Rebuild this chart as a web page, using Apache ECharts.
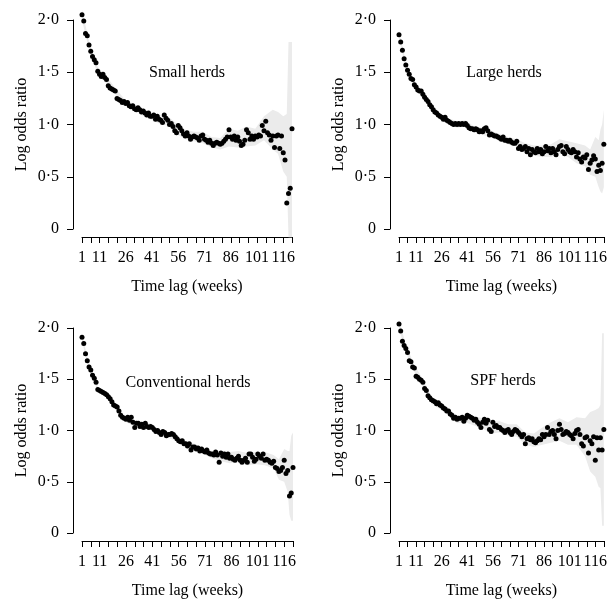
<!DOCTYPE html>
<html>
<head>
<meta charset="utf-8">
<script src="https://cdn.jsdelivr.net/npm/echarts@6/dist/echarts.min.js"></script>
<style>
html,body{margin:0;padding:0;background:#fff;}
#chart{width:610px;height:600px;}
</style>
</head>
<body>
<div id="chart"></div>
<script>
// ---- data ----
const panelTitles = ['Small herds', 'Large herds', 'Conventional herds', 'SPF herds'];
const xTickLabels = [1, 11, 26, 41, 56, 71, 86, 101, 116];
const yTickValues = [0, 0.5, 1.0, 1.5, 2.0];
const yTickLabels = ['0', '0·5', '1·0', '1·5', '2·0'];

const smallHerds = [2.05,1.99,1.87,1.85,1.76,1.70,1.65,1.62,1.59,1.51,
1.48,1.46,1.48,1.45,1.43,1.37,1.35,1.34,1.33,1.32,
1.25,1.24,1.23,1.21,1.22,1.20,1.21,1.18,1.17,1.18,
1.15,1.14,1.16,1.14,1.12,1.13,1.11,1.09,1.11,1.08,
1.08,1.09,1.05,1.08,1.05,1.04,1.02,1.09,1.06,1.04,
1.00,1.01,0.98,0.94,0.92,0.99,0.97,0.94,0.91,0.89,
0.92,0.89,0.86,0.88,0.89,0.88,0.87,0.85,0.89,0.90,
0.86,0.85,0.83,0.85,0.82,0.80,0.82,0.83,0.82,0.81,
0.82,0.84,0.86,0.88,0.95,0.88,0.86,0.89,0.85,0.88,
0.84,0.80,0.81,0.85,0.95,0.92,0.86,0.89,0.86,0.89,
0.88,0.90,0.89,0.99,0.94,1.03,0.92,0.90,0.85,0.89,
0.78,0.89,0.90,0.77,0.89,0.73,0.66,0.25,0.34,0.39,
0.96];
const largeHerds = [1.86,1.79,1.71,1.63,1.57,1.52,1.48,1.44,1.43,1.38,
1.36,1.33,1.32,1.32,1.29,1.26,1.24,1.22,1.19,1.17,
1.14,1.12,1.11,1.09,1.08,1.07,1.05,1.07,1.04,1.03,
1.02,1.01,1.00,1.01,1.00,1.01,1.00,1.01,1.00,1.01,
0.99,0.97,0.96,0.96,0.95,0.96,0.95,0.93,0.94,0.93,
0.96,0.97,0.94,0.90,0.91,0.90,0.89,0.89,0.88,0.87,
0.86,0.88,0.85,0.85,0.84,0.85,0.83,0.82,0.82,0.84,
0.77,0.79,0.76,0.77,0.79,0.74,0.77,0.71,0.76,0.74,
0.73,0.77,0.74,0.76,0.72,0.74,0.79,0.75,0.77,0.73,
0.77,0.74,0.71,0.76,0.79,0.80,0.74,0.72,0.79,0.76,
0.74,0.73,0.76,0.74,0.69,0.73,0.67,0.64,0.69,0.68,
0.71,0.57,0.63,0.66,0.70,0.67,0.55,0.61,0.56,0.63,
0.81];
const conventionalHerds = [1.91,1.85,1.75,1.68,1.62,1.59,1.54,1.51,1.47,1.40,
1.39,1.38,1.37,1.36,1.35,1.33,1.31,1.28,1.25,1.24,
1.23,1.19,1.15,1.13,1.12,1.11,1.13,1.10,1.13,1.08,
1.03,1.07,1.07,1.04,1.06,1.03,1.07,1.04,1.03,1.04,
1.03,1.01,0.99,1.00,0.98,0.96,0.99,0.98,0.95,0.96,
0.96,0.97,0.96,0.94,0.92,0.90,0.89,0.90,0.87,0.87,
0.85,0.87,0.81,0.84,0.84,0.82,0.83,0.80,0.82,0.80,
0.79,0.81,0.78,0.77,0.77,0.76,0.79,0.76,0.69,0.78,
0.75,0.77,0.74,0.77,0.73,0.74,0.72,0.71,0.73,0.75,
0.71,0.69,0.71,0.73,0.69,0.77,0.77,0.74,0.70,0.72,
0.77,0.75,0.73,0.77,0.71,0.72,0.71,0.69,0.68,0.70,
0.64,0.63,0.60,0.61,0.64,0.71,0.58,0.61,0.36,0.39,
0.64];
const spfHerds = [2.04,1.97,1.87,1.83,1.80,1.76,1.68,1.67,1.62,1.61,
1.53,1.52,1.50,1.49,1.47,1.41,1.39,1.34,1.32,1.30,
1.29,1.28,1.26,1.27,1.25,1.24,1.22,1.21,1.19,1.19,
1.16,1.15,1.12,1.13,1.11,1.12,1.12,1.13,1.09,1.12,
1.15,1.14,1.13,1.12,1.10,1.11,1.08,1.06,1.03,1.08,
1.11,1.07,1.10,1.01,0.99,1.08,1.04,1.05,1.03,1.03,
1.01,1.00,0.98,1.00,1.01,0.98,0.96,0.99,1.01,1.00,
0.98,0.96,0.94,0.96,0.87,0.92,0.93,0.91,0.92,0.89,
0.88,0.90,0.92,0.91,0.96,0.94,0.96,1.03,0.96,0.99,
1.00,0.96,0.92,1.00,1.06,1.01,0.96,0.97,0.99,0.98,
0.96,0.95,0.92,0.97,1.00,1.01,0.96,0.87,0.85,0.93,
0.94,0.78,0.90,0.87,0.94,0.71,0.93,0.81,0.93,0.81,
1.01];

// confidence band, read at sampled weeks
const bandWeeks = [1,5,10,15,20,25,30,35,40,45,50,55,60,65,70,75,80,85,90,95,100,105,110,113,116,118,119,120,121];
const smallLower = [2.00,1.72,1.48,1.39,1.29,1.19,1.14,1.09,1.05,1.01,0.99,0.91,0.86,0.84,0.82,0.78,0.76,0.79,0.78,0.79,0.80,0.85,0.76,0.72,0.55,0.50,-0.08,-0.08,-0.08];
const smallUpper = [2.10,1.80,1.55,1.46,1.35,1.25,1.20,1.16,1.12,1.09,1.08,1.01,0.95,0.93,0.93,0.88,0.87,0.96,0.94,0.98,0.96,1.08,1.14,1.12,1.08,1.10,1.79,1.79,1.79];
const largeLower = [1.82,1.54,1.35,1.26,1.14,1.05,1.00,0.97,0.98,0.92,0.90,0.88,0.84,0.81,0.79,0.72,0.70,0.69,0.69,0.72,0.69,0.63,0.60,0.52,0.50,0.40,0.36,0.34,0.40];
const largeUpper = [1.90,1.60,1.41,1.32,1.20,1.11,1.06,1.03,1.04,0.98,0.97,0.94,0.91,0.88,0.86,0.82,0.80,0.80,0.81,0.86,0.84,0.82,0.80,0.76,0.88,0.85,0.95,1.00,1.14];
const convLower = [1.87,1.59,1.38,1.32,1.21,1.09,1.05,1.02,1.01,0.95,0.93,0.89,0.84,0.81,0.77,0.73,0.70,0.68,0.69,0.66,0.67,0.66,0.63,0.52,0.50,0.40,0.18,0.12,0.12];
const convUpper = [1.94,1.65,1.43,1.37,1.27,1.15,1.11,1.08,1.07,1.01,0.99,0.95,0.90,0.87,0.83,0.80,0.80,0.79,0.80,0.78,0.79,0.79,0.76,0.72,0.82,0.80,0.80,0.95,0.98];
const spfLower = [1.99,1.76,1.57,1.43,1.26,1.21,1.15,1.07,1.08,1.05,1.02,0.97,0.98,0.95,0.94,0.86,0.84,0.86,0.88,0.90,0.86,0.86,0.75,0.60,0.55,0.45,0.44,0.07,0.07];
const spfUpper = [2.08,1.84,1.64,1.50,1.33,1.28,1.22,1.14,1.16,1.14,1.12,1.08,1.09,1.06,1.06,0.98,0.97,1.03,1.08,1.12,1.08,1.13,1.12,1.18,1.20,1.22,1.25,1.95,1.95];

const panelValues = [smallHerds, largeHerds, conventionalHerds, spfHerds];
const panelLower = [smallLower, largeLower, convLower, spfLower];
const panelUpper = [smallUpper, largeUpper, convUpper, spfUpper];

// ---- layout ----
const FONT = 'Liberation Serif';
const grids = [
  {left: 82, top: 20, width: 210, height: 209},
  {left: 399, top: 20, width: 209, height: 209},
  {left: 82, top: 328, width: 211, height: 209},
  {left: 399, top: 328, width: 209, height: 209}
];
const titlePos = [[187, 73], [504, 73], [188, 383], [503, 381]];

const xAxes = [], yAxes = [], series = [], graphics = [];
grids.forEach((g, i) => {
  xAxes.push({
    type: 'value', gridIndex: i, min: 1, max: 121, interval: 5,
    position: 'bottom', offset: 8,
    axisLine: {show: true, onZero: false, lineStyle: {color: '#000', width: 1}},
    axisTick: {show: true, length: 6, lineStyle: {color: '#000', width: 1}},
    splitLine: {show: false},
    axisLabel: {
      color: '#000', fontFamily: FONT, fontSize: 16, margin: 13,
      formatter: v => xTickLabels.indexOf(Math.round(v)) >= 0 ? String(Math.round(v)) : ''
    },
    name: 'Time lag (weeks)', nameLocation: 'middle', nameGap: 42,
    nameTextStyle: {color: '#000', fontFamily: FONT, fontSize: 16}
  });
  yAxes.push({
    type: 'value', gridIndex: i, min: 0, max: 2, interval: 0.5,
    position: 'left', offset: 9,
    axisLine: {show: true, onZero: false, lineStyle: {color: '#000', width: 1}},
    axisTick: {show: true, length: 6, lineStyle: {color: '#000', width: 1}},
    splitLine: {show: false},
    axisLabel: {
      color: '#000', fontFamily: FONT, fontSize: 16, margin: 14,
      formatter: v => {
        const k = yTickValues.findIndex(t => Math.abs(t - v) < 1e-6);
        return k >= 0 ? yTickLabels[k] : '';
      }
    },
    name: 'Log odds ratio', nameLocation: 'middle', nameGap: 43, nameRotate: 90,
    nameTextStyle: {color: '#000', fontFamily: FONT, fontSize: 16}
  });
  const lower = panelLower[i], upper = panelUpper[i];
  series.push({
    type: 'custom', xAxisIndex: i, yAxisIndex: i, silent: true, z: 1,
    data: bandWeeks.map((w, k) => [w, lower[k], upper[k]]),
    renderItem: (params, api) => {
      if (params.dataIndex !== 0) return null;
      const pts = [];
      for (let k = 0; k < bandWeeks.length; k++) pts.push(api.coord([bandWeeks[k], upper[k]]));
      for (let k = bandWeeks.length - 1; k >= 0; k--) pts.push(api.coord([bandWeeks[k], lower[k]]));
      return {type: 'polygon', shape: {points: pts}, style: {fill: '#ebebeb', stroke: null}};
    },
    encode: {x: 0, y: [1, 2]}
  });
  series.push({
    type: 'scatter', xAxisIndex: i, yAxisIndex: i, z: 3, clip: false,
    symbol: 'circle', symbolSize: 5,
    itemStyle: {color: '#000', opacity: 1},
    data: panelValues[i].map((v, k) => [k + 1, v])
  });
  graphics.push({
    type: 'text', x: titlePos[i][0], y: titlePos[i][1],
    style: {text: panelTitles[i], fill: '#000', font: '16px "' + FONT + '"', textAlign: 'center', textVerticalAlign: 'middle'}
  });
});

const chart = echarts.init(document.getElementById('chart'), null, {renderer: 'canvas'});
chart.setOption({
  backgroundColor: '#fff',
  animation: false,
  grid: grids.map(g => Object.assign({containLabel: false}, g)),
  xAxis: xAxes,
  yAxis: yAxes,
  series: series,
  graphic: graphics
});
</script>
</body>
</html>
